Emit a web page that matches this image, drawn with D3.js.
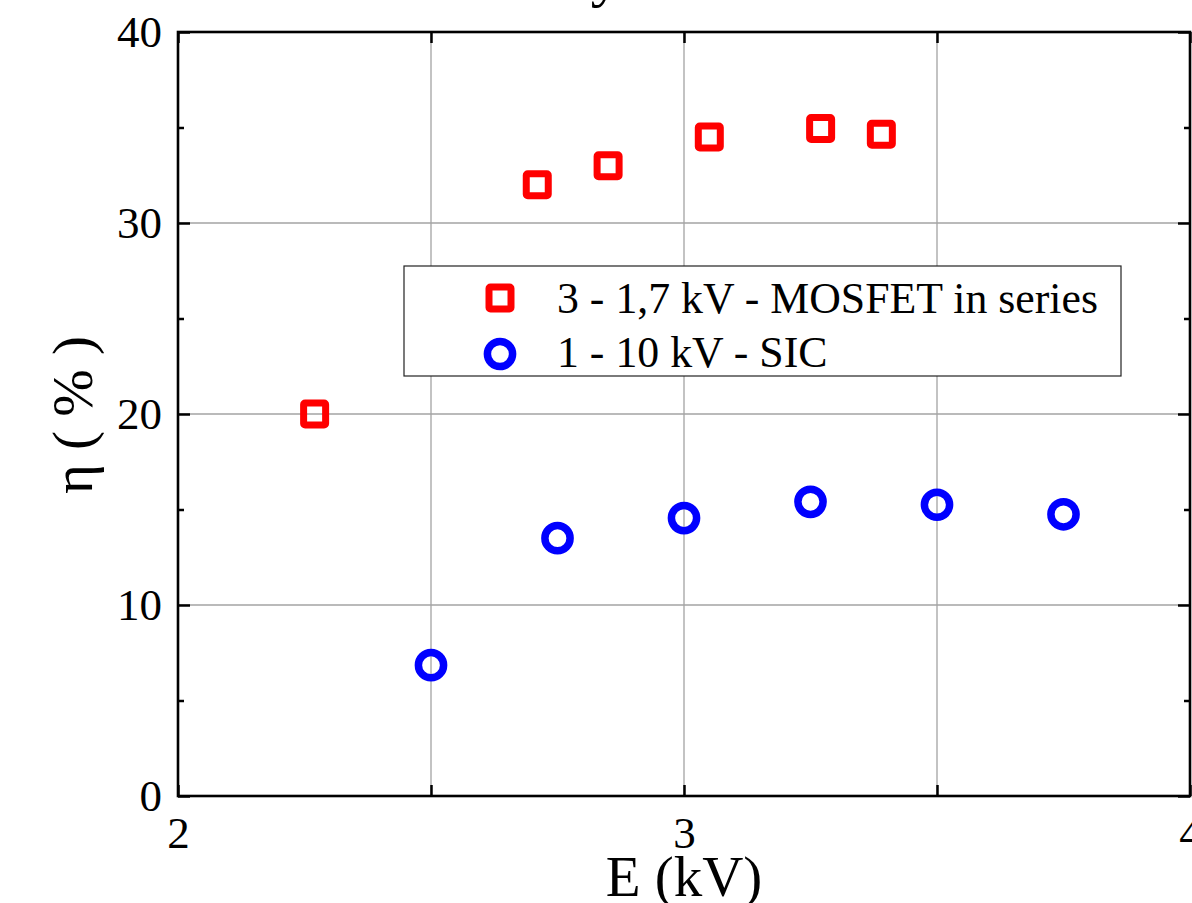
<!DOCTYPE html>
<html>
<head>
<meta charset="utf-8">
<script src="https://cdn.jsdelivr.net/npm/d3@7"></script>
<style>
  html, body { margin: 0; padding: 0; background: #fff; overflow: hidden; }
  svg { display: block; }
  text { font-family: "Liberation Serif", "DejaVu Serif", serif; fill: #000; }
</style>
</head>
<body>
<svg id="chart" width="1192" height="903"></svg>
<script>
// ---- data ----
const titleText = "Efficiency at 10 kV - SiC";
const xLabel = "E (kV)";
const yLabel = "\u03b7 ( % )";
const seriesNames = ["3 - 1,7 kV - MOSFET in series", "1 - 10 kV - SIC"];
const mosfetE = [2.27, 2.71, 2.85, 3.05, 3.27, 3.39];
const mosfetEta = [20.0, 32.0, 33.0, 34.5, 34.95, 34.65];
const sicE = [2.5, 2.75, 3.0, 3.25, 3.5, 3.75];
const sicEta = [6.85, 13.5, 14.55, 15.4, 15.25, 14.75];
const xTickLabels = [2, 3, 4];
const xTicks = [2, 2.5, 3, 3.5, 4];
const yTicks = [0, 10, 20, 30, 40];
const yMinorTicks = [5, 15, 25, 35];
const xGrid = [2.5, 3, 3.5];
const yGrid = [10, 20, 30];

// ---- layout ----
const svg = d3.select("#chart");
const L = 178, R = 1190, T = 32, B = 796;
const x = d3.scaleLinear().domain([2, 4]).range([L, R]);
const y = d3.scaleLinear().domain([0, 40]).range([B, T]);

// grid
const g = svg.append("g");
g.selectAll("line.gx").data(xGrid).enter().append("line")
  .attr("x1", d => x(d)).attr("x2", d => x(d)).attr("y1", T).attr("y2", B)
  .attr("stroke", "#a3a3a3").attr("stroke-width", 1.3);
g.selectAll("line.gy").data(yGrid).enter().append("line")
  .attr("y1", d => y(d)).attr("y2", d => y(d)).attr("x1", L).attr("x2", R)
  .attr("stroke", "#a3a3a3").attr("stroke-width", 1.3);

// axes (ticks inward)
function styleAxis(sel) {
  sel.select(".domain").remove();
  sel.selectAll(".tick line").attr("stroke", "#000").attr("stroke-width", 2.5);
  sel.selectAll(".tick text").style("font-family", "'Liberation Serif', serif").style("font-size", "45px").attr("fill", "#000");
}
// bottom
svg.append("g").attr("transform", `translate(0,${B})`)
  .call(d3.axisBottom(x).tickValues(xTicks).tickSizeInner(-11).tickSizeOuter(0)
    .tickPadding(22).tickFormat(d => xTickLabels.includes(d) ? d3.format("d")(d) : ""))
  .call(styleAxis)
  .call(s => s.selectAll(".tick text").attr("dy", "0.71em").attr("y", 20));
// top
svg.append("g").attr("transform", `translate(0,${T})`)
  .call(d3.axisTop(x).tickValues(xTicks).tickSizeInner(-11).tickSizeOuter(0).tickFormat(""))
  .call(styleAxis);
// left major
svg.append("g").attr("transform", `translate(${L},0)`)
  .call(d3.axisLeft(y).tickValues(yTicks).tickSizeInner(-12).tickSizeOuter(0).tickPadding(17).tickFormat(d3.format("d")))
  .call(styleAxis)
  .call(s => s.selectAll(".tick text").attr("x", -16));
// left minor
svg.append("g").attr("transform", `translate(${L},0)`)
  .call(d3.axisLeft(y).tickValues(yMinorTicks).tickSizeInner(-6).tickSizeOuter(0).tickFormat(""))
  .call(styleAxis);
// right major / minor
svg.append("g").attr("transform", `translate(${R},0)`)
  .call(d3.axisRight(y).tickValues(yTicks).tickSizeInner(-12).tickSizeOuter(0).tickFormat(""))
  .call(styleAxis);
svg.append("g").attr("transform", `translate(${R},0)`)
  .call(d3.axisRight(y).tickValues(yMinorTicks).tickSizeInner(-6).tickSizeOuter(0).tickFormat(""))
  .call(styleAxis);

// frame
svg.append("rect").attr("x", L).attr("y", T).attr("width", R - L).attr("height", B - T)
  .attr("fill", "none").attr("stroke", "#000").attr("stroke-width", 2.6);

// title (mostly cut off at top)
svg.append("text").attr("x", 372).attr("y", -5).attr("text-anchor", "start")
  .style("font-size", "60px").text(titleText);

// axis labels
svg.append("text").attr("x", 684).attr("y", 896).attr("text-anchor", "middle")
  .style("font-size", "57px").text(xLabel);
svg.append("text").attr("transform", `translate(92,${415}) rotate(-90)`).attr("text-anchor", "middle")
  .style("font-size", "57px").text(yLabel);

// markers
const sq = 22, sqStroke = 7;
svg.append("g").selectAll("rect").data(mosfetE.map((e, i) => [e, mosfetEta[i]])).enter().append("rect")
  .attr("x", d => x(d[0]) - sq / 2).attr("y", d => y(d[1]) - sq / 2)
  .attr("width", sq).attr("height", sq).attr("rx", 1.5)
  .attr("fill", "none").attr("stroke", "#ff0000").attr("stroke-width", sqStroke).attr("stroke-linejoin", "round");
const cr = 12.6, crStroke = 7.5;
svg.append("g").selectAll("circle").data(sicE.map((e, i) => [e, sicEta[i]])).enter().append("circle")
  .attr("cx", d => x(d[0])).attr("cy", d => y(d[1])).attr("r", cr)
  .attr("fill", "none").attr("stroke", "#0000ff").attr("stroke-width", crStroke);

// legend
const lg = svg.append("g");
lg.append("rect").attr("x", 404).attr("y", 266).attr("width", 717).attr("height", 110)
  .attr("fill", "#fff").attr("stroke", "#222").attr("stroke-width", 1.2);
lg.append("rect").attr("x", 500 - sq / 2).attr("y", 298 - sq / 2).attr("width", sq).attr("height", sq).attr("rx", 1.5)
  .attr("fill", "none").attr("stroke", "#ff0000").attr("stroke-width", sqStroke);
lg.append("circle").attr("cx", 500).attr("cy", 354).attr("r", cr)
  .attr("fill", "none").attr("stroke", "#0000ff").attr("stroke-width", crStroke);
lg.append("text").attr("x", 557).attr("y", 313).style("font-size", "43.8px").text(seriesNames[0]);
lg.append("text").attr("x", 557).attr("y", 367).style("font-size", "43.8px").text(seriesNames[1]);
</script>
</body>
</html>
